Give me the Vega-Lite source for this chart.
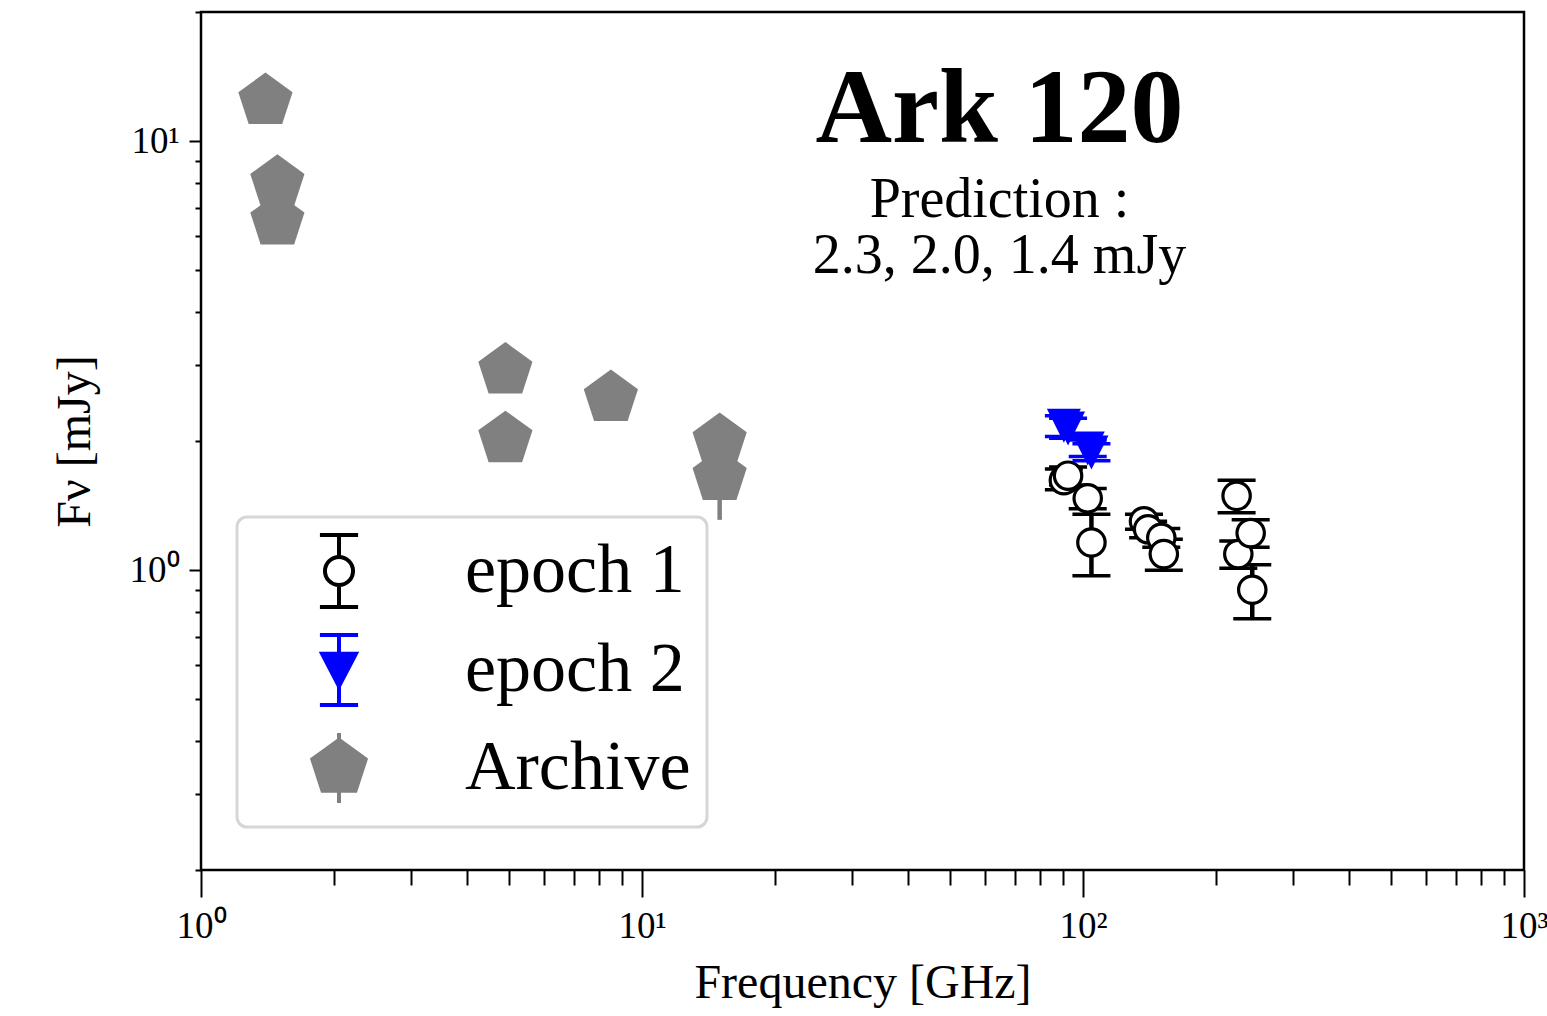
{
  "$schema": "https://vega.github.io/schema/vega-lite/v6.json",
  "autosize": {"type": "none"},
  "padding": {"left": 201, "top": 12, "right": 23, "bottom": 146},
  "width": 1323,
  "height": 858,
  "background": "white",
  "title": {
    "text": "Ark 120",
    "subtitle": ["Prediction :", "2.3, 2.0, 1.4 mJy"],
    "anchor": "middle",
    "frame": "group",
    "dx": 137,
    "offset": -292,
    "font": "Liberation Serif",
    "fontSize": 106,
    "fontWeight": "bold",
    "color": "black",
    "subtitleFont": "Liberation Serif",
    "subtitleFontSize": 56,
    "subtitleColor": "black",
    "subtitleLineHeight": 56,
    "subtitlePadding": 9
  },
  "data": {
    "values": [
      {"series": "Archive", "freq": 1.40, "flux": 12.4, "lo": 11.9, "hi": 12.9},
      {"series": "Archive", "freq": 1.49, "flux": 8.0, "lo": 7.6, "hi": 8.4},
      {"series": "Archive", "freq": 1.49, "flux": 6.5, "lo": 6.2, "hi": 6.8},
      {"series": "Archive", "freq": 4.9, "flux": 2.92, "lo": 2.8, "hi": 3.05},
      {"series": "Archive", "freq": 4.9, "flux": 2.02, "lo": 1.92, "hi": 2.12},
      {"series": "Archive", "freq": 8.5, "flux": 2.52, "lo": 2.40, "hi": 2.64},
      {"series": "Archive", "freq": 15.0, "flux": 2.0, "lo": 1.9, "hi": 2.1},
      {"series": "Archive", "freq": 15.0, "flux": 1.65, "lo": 1.31, "hi": 1.99},
      {"series": "epoch 1", "freq": 90.5, "flux": 1.62, "lo": 1.54, "hi": 1.72},
      {"series": "epoch 1", "freq": 92.5, "flux": 1.66, "lo": 1.58, "hi": 1.74},
      {"series": "epoch 1", "freq": 102.5, "flux": 1.47, "lo": 1.39, "hi": 1.55},
      {"series": "epoch 1", "freq": 104.5, "flux": 1.16, "lo": 0.97, "hi": 1.35},
      {"series": "epoch 1", "freq": 137.5, "flux": 1.30, "lo": 1.245, "hi": 1.35},
      {"series": "epoch 1", "freq": 140.5, "flux": 1.245, "lo": 1.19, "hi": 1.30},
      {"series": "epoch 1", "freq": 150.5, "flux": 1.19, "lo": 1.13, "hi": 1.25},
      {"series": "epoch 1", "freq": 152.5, "flux": 1.09, "lo": 1.00, "hi": 1.18},
      {"series": "epoch 1", "freq": 223, "flux": 1.49, "lo": 1.36, "hi": 1.62},
      {"series": "epoch 1", "freq": 225, "flux": 1.09, "lo": 1.01, "hi": 1.17},
      {"series": "epoch 1", "freq": 240, "flux": 1.22, "lo": 1.13, "hi": 1.31},
      {"series": "epoch 1", "freq": 242, "flux": 0.90, "lo": 0.77, "hi": 1.03},
      {"series": "epoch 2", "freq": 90.5, "flux": 2.17, "lo": 2.05, "hi": 2.29},
      {"series": "epoch 2", "freq": 92.5, "flux": 2.14, "lo": 2.03, "hi": 2.26},
      {"series": "epoch 2", "freq": 102.5, "flux": 1.92, "lo": 1.84, "hi": 2.01},
      {"series": "epoch 2", "freq": 104.5, "flux": 1.88, "lo": 1.80, "hi": 1.97}
    ]
  },
  "encoding": {
    "x": {
      "field": "freq",
      "type": "quantitative",
      "scale": {"type": "log", "domain": [1, 1000], "nice": false},
      "axis": {
        "title": "Frequency [GHz]",
        "values": [1,2,3,4,5,6,7,8,9,10,20,30,40,50,60,70,80,90,100,200,300,400,500,600,700,800,900,1000],
        "labelExpr": "datum.value == 1 ? '10⁰' : datum.value == 10 ? '10¹' : datum.value == 100 ? '10²' : datum.value == 1000 ? '10³' : ''",
        "tickSize": {"condition": {"test": "datum.value == 1 || datum.value == 10 || datum.value == 100 || datum.value == 1000", "value": 27}, "value": 15},
        "tickWidth": 2,
        "tickColor": "black",
        "domain": false,
        "grid": false,
        "labelFont": "Liberation Serif",
        "labelFontSize": 37,
        "labelColor": "black",
        "labelPadding": 11,
        "labelFlush": false,
        "labelOverlap": false,
        "labelBound": false,
        "titleFont": "Liberation Serif",
        "titleFontSize": 48,
        "titleFontWeight": "normal",
        "titleColor": "black",
        "titlePadding": 15
      }
    }
  },
  "layer": [
    {
      "transform": [{"filter": "datum.series == 'Archive'"}],
      "mark": {"type": "rule", "color": "#808080", "strokeWidth": 4.5},
      "encoding": {
        "y": {
          "field": "lo", "type": "quantitative",
          "scale": {"type": "log", "domain": [0.2, 20], "nice": false},
          "title": "Fν [mJy]",
          "axis": {
            "values": [0.2,0.3,0.4,0.5,0.6,0.7,0.8,0.9,1,2,3,4,5,6,7,8,9,10,20],
            "labelExpr": "datum.value == 1 ? '10⁰' : datum.value == 10 ? '10¹' : ''",
            "tickSize": {"condition": {"test": "datum.value == 1 || datum.value == 10", "value": 12}, "value": 6},
            "tickWidth": 2,
            "tickColor": "black",
            "domain": false,
            "grid": false,
            "labelFont": "Liberation Serif",
            "labelFontSize": 37,
            "labelColor": "black",
            "labelPadding": 10,
            "labelFlush": false,
            "labelOverlap": false,
            "labelBound": false,
            "titleFont": "Liberation Serif",
            "titleFontSize": 48,
            "titleFontWeight": "normal",
            "titleColor": "black",
            "titlePadding": 30
          }
        },
        "y2": {"field": "hi"}
      }
    },
    {
      "transform": [{"filter": "datum.series == 'Archive'"}],
      "mark": {"type": "point", "shape": "M0,-1L0.951,-0.309L0.588,0.809L-0.588,0.809L-0.951,-0.309Z", "size": 3250, "filled": true, "color": "#808080", "opacity": 1, "strokeWidth": 0},
      "encoding": {
        "y": {"field": "flux", "type": "quantitative", "scale": {"type": "log", "domain": [0.2, 20], "nice": false}, "title": "Fν [mJy]"}
      }
    },
    {
      "transform": [{"filter": "datum.series == 'epoch 1'"}],
      "mark": {"type": "rule", "color": "black", "strokeWidth": 4.5},
      "encoding": {
        "y": {"field": "lo", "type": "quantitative", "scale": {"type": "log", "domain": [0.2, 20], "nice": false}, "title": "Fν [mJy]"},
        "y2": {"field": "hi"}
      }
    },
    {
      "transform": [{"filter": "datum.series == 'epoch 1'"}],
      "mark": {"type": "tick", "orient": "horizontal", "size": 38, "thickness": 3.5, "color": "black", "opacity": 1},
      "encoding": {
        "y": {"field": "lo", "type": "quantitative", "scale": {"type": "log", "domain": [0.2, 20], "nice": false}, "title": "Fν [mJy]"}
      }
    },
    {
      "transform": [{"filter": "datum.series == 'epoch 1'"}],
      "mark": {"type": "tick", "orient": "horizontal", "size": 38, "thickness": 3.5, "color": "black", "opacity": 1},
      "encoding": {
        "y": {"field": "hi", "type": "quantitative", "scale": {"type": "log", "domain": [0.2, 20], "nice": false}, "title": "Fν [mJy]"}
      }
    },
    {
      "transform": [{"filter": "datum.series == 'epoch 1'"}],
      "mark": {"type": "point", "shape": "circle", "size": 750, "fill": "white", "stroke": "black", "strokeWidth": 3.2, "opacity": 1, "fillOpacity": 1},
      "encoding": {
        "y": {"field": "flux", "type": "quantitative", "scale": {"type": "log", "domain": [0.2, 20], "nice": false}, "title": "Fν [mJy]"}
      }
    },
    {
      "transform": [{"filter": "datum.series == 'epoch 2'"}],
      "mark": {"type": "rule", "color": "#0000ff", "strokeWidth": 4.5},
      "encoding": {
        "y": {"field": "lo", "type": "quantitative", "scale": {"type": "log", "domain": [0.2, 20], "nice": false}, "title": "Fν [mJy]"},
        "y2": {"field": "hi"}
      }
    },
    {
      "transform": [{"filter": "datum.series == 'epoch 2'"}],
      "mark": {"type": "tick", "orient": "horizontal", "size": 38, "thickness": 3.5, "color": "#0000ff", "opacity": 1},
      "encoding": {
        "y": {"field": "lo", "type": "quantitative", "scale": {"type": "log", "domain": [0.2, 20], "nice": false}, "title": "Fν [mJy]"}
      }
    },
    {
      "transform": [{"filter": "datum.series == 'epoch 2'"}],
      "mark": {"type": "tick", "orient": "horizontal", "size": 38, "thickness": 3.5, "color": "#0000ff", "opacity": 1},
      "encoding": {
        "y": {"field": "hi", "type": "quantitative", "scale": {"type": "log", "domain": [0.2, 20], "nice": false}, "title": "Fν [mJy]"}
      }
    },
    {
      "transform": [{"filter": "datum.series == 'epoch 2'"}],
      "mark": {"type": "point", "shape": "M0,1L-1,-1L1,-1Z", "size": 1156, "filled": true, "color": "#0000ff", "opacity": 1, "strokeWidth": 0},
      "encoding": {
        "y": {"field": "flux", "type": "quantitative", "scale": {"type": "log", "domain": [0.2, 20], "nice": false}, "title": "Fν [mJy]"}
      }
    },
    {
      "mark": {"type": "point", "opacity": 0, "size": 5184, "strokeWidth": 4},
      "encoding": {
        "y": {"field": "flux", "type": "quantitative", "scale": {"type": "log", "domain": [0.2, 20], "nice": false}, "title": "Fν [mJy]"},
        "shape": {
          "field": "series", "type": "nominal",
          "scale": {
            "domain": ["epoch 1", "epoch 2", "Archive"],
            "range": [
              "M-0.53,-1L0.53,-1M0,-1L0,-0.39M0,0.39L0,1M-0.53,1L0.53,1M0.39,0A0.39,0.39 0 1,1 -0.39,0A0.39,0.39 0 1,1 0.39,0Z",
              "M-0.53,-0.97L0.53,-0.97M0,-0.97L0,0.97M-0.53,0.97L0.53,0.97M0,0.45L-0.47,-0.45L0.47,-0.45Z",
              "M0,-0.97L0,0.97M0,-0.78L0.742,-0.241L0.458,0.631L-0.458,0.631L-0.742,-0.241Z"
            ]
          },
          "legend": {
            "title": null,
            "orient": "none",
            "legendX": 36,
            "legendY": 505,
            "symbolSize": 5184,
            "symbolStrokeWidth": 4,
            "symbolOpacity": 1,
            "symbolOffset": 48,
            "labelFont": "Liberation Serif",
            "labelFontSize": 70,
            "labelColor": "black",
            "labelOffset": 88,
            "labelLimit": 0,
            "rowPadding": 12,
            "padding": 16,
            "fillColor": "white",
            "strokeColor": "#d6d6d6",
            "cornerRadius": 10
          }
        },
        "fill": {
          "field": "series", "type": "nominal",
          "scale": {"domain": ["epoch 1", "epoch 2", "Archive"], "range": ["white", "#0000ff", "#808080"]}
        },
        "stroke": {
          "field": "series", "type": "nominal",
          "scale": {"domain": ["epoch 1", "epoch 2", "Archive"], "range": ["black", "#0000ff", "#808080"]}
        }
      }
    }
  ],
  "config": {
    "view": {"stroke": "black", "strokeWidth": 2.5},
    "legend": {"strokeWidth": 3}
  }
}
